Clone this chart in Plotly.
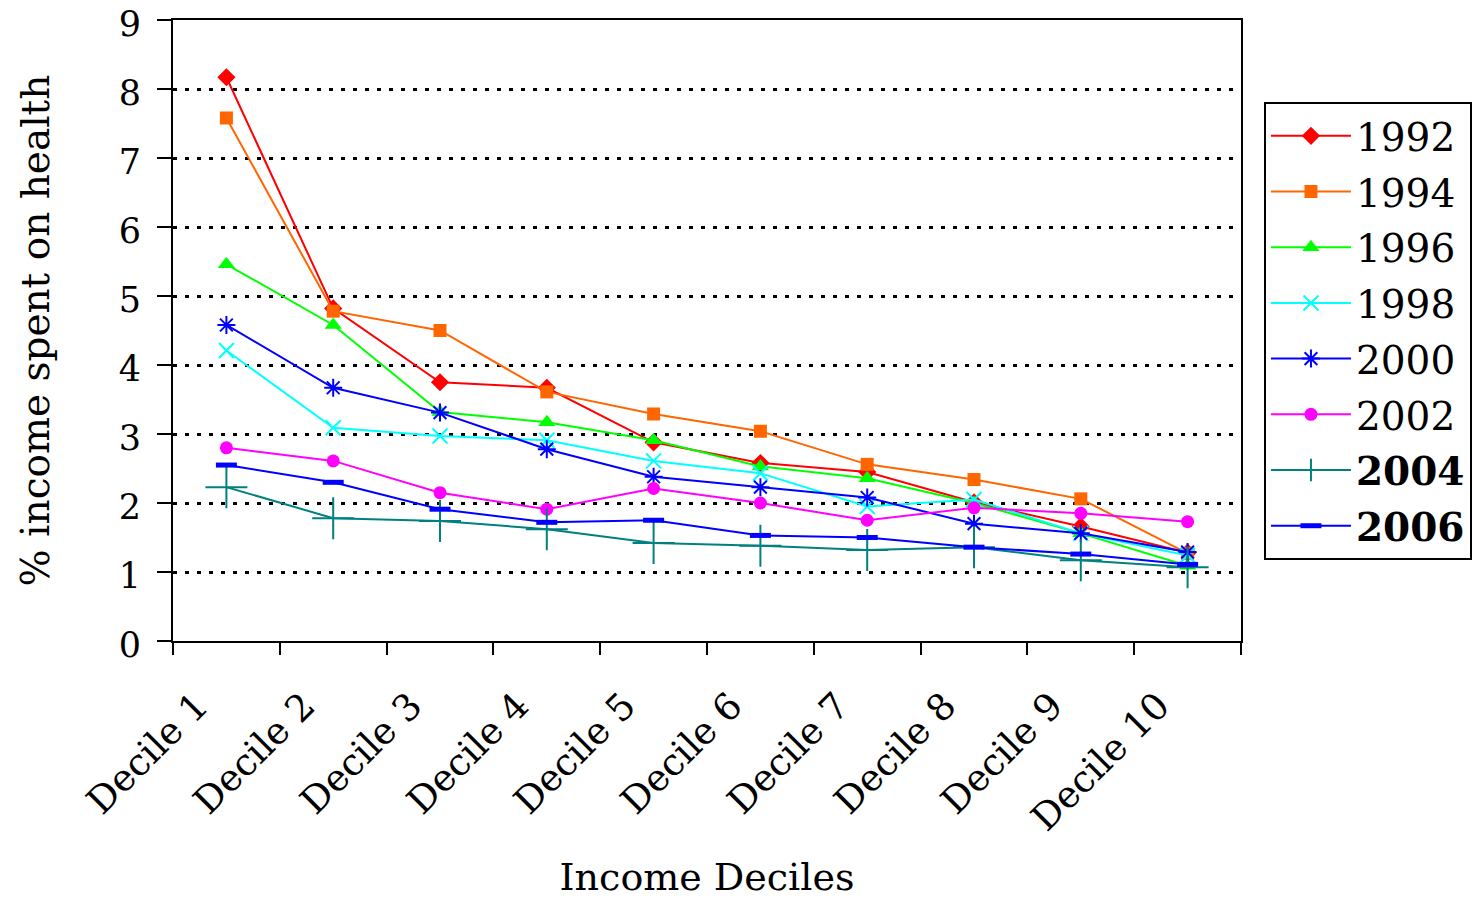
import plotly.graph_objects as go

categories = ["Decile 1", "Decile 2", "Decile 3", "Decile 4", "Decile 5",
              "Decile 6", "Decile 7", "Decile 8", "Decile 9", "Decile 10"]

y1992 = [8.17, 4.82, 3.75, 3.67, 2.88, 2.58, 2.45, 2.01, 1.66, 1.28]
y1994 = [7.58, 4.78, 4.50, 3.61, 3.29, 3.04, 2.56, 2.34, 2.06, 1.27]
y1996 = [5.46, 4.58, 3.32, 3.17, 2.91, 2.53, 2.36, 2.00, 1.56, 1.09]
y1998 = [4.21, 3.09, 2.97, 2.91, 2.61, 2.43, 1.95, 2.05, 1.56, 1.24]
y2000 = [4.58, 3.67, 3.31, 2.78, 2.38, 2.23, 2.08, 1.70, 1.56, 1.29]
y2002 = [2.80, 2.61, 2.15, 1.91, 2.21, 2.00, 1.75, 1.93, 1.85, 1.73]
y2004 = [2.23, 1.78, 1.74, 1.62, 1.42, 1.38, 1.32, 1.36, 1.17, 1.07]
y2006 = [2.55, 2.30, 1.91, 1.72, 1.75, 1.53, 1.50, 1.36, 1.26, 1.11]

series = [
    ("1992", y1992, "#FF0000", "diamond", 14, 1),
    ("1994", y1994, "#FF6600", "square", 13, 1),
    ("1996", y1996, "#00FF00", "triangle-up", 15, 1),
    ("1998", y1998, "#00FFFF", "x-thin", 15, 2),
    ("2000", y2000, "#0000FF", "asterisk", 15, 2),
    ("2002", y2002, "#FF00FF", "circle", 13, 1),
    ("<b>2004</b>", y2004, "#008080", "cross-thin", 30, 2),
    ("<b>2006</b>", y2006, "#0000FF", "line-ew", 15, 5),
]

fig = go.Figure()
for i, (name, vals, color, sym, size, lw) in enumerate(series):
    thin = sym in ("x-thin", "asterisk", "cross-thin", "line-ew")
    fig.add_trace(go.Scatter(
        x=categories, y=vals, name=name, mode="lines+markers",
        line=dict(color=color, width=2),
        marker=dict(symbol=sym, size=size, color=color,
                    line=dict(color=color, width=lw if thin else 0)),
        legendgroup=str(i),
    ))

font_family = "DejaVu Serif"
fig.update_layout(
    width=1474, height=891,
    paper_bgcolor="white", plot_bgcolor="white",
    margin=dict(l=165, r=241, t=12, b=258, autoexpand=False),
    font=dict(family=font_family, size=38, color="black"),
    showlegend=True,
    legend=dict(
        x=1.0215, y=0.868, xanchor="left", yanchor="top",
        bordercolor="black", borderwidth=2, bgcolor="white",
        font=dict(family=font_family, size=39, color="black"),
        tracegroupgap=2, itemwidth=80,
    ),
    xaxis=dict(
        type="category", tickangle=-45, tickson="boundaries",
        ticks="outside", ticklen=12, tickwidth=2, tickcolor="black",
        showline=True, linecolor="black", linewidth=2, mirror=True,
        showgrid=False, range=[-0.5, 9.5], automargin=False,
        ticklabelstandoff=26, ticklabelshift=-29, ticklabeloverflow="allow",
        tickfont=dict(family=font_family, size=37),
        title=dict(text="Income Deciles", standoff=50,
                   font=dict(family=font_family, size=38)),
    ),
    yaxis=dict(
        range=[0, 9], dtick=1, ticks="outside", ticklen=14, tickwidth=2,
        tickcolor="black", automargin=False,
        showline=True, linecolor="black", linewidth=2, mirror=True,
        showgrid=True, gridcolor="black", griddash="4px,8px", gridwidth=2.5,
        zeroline=False, ticklabelstandoff=9, ticklabelshift=4,
        ticklabeloverflow="allow",
        tickfont=dict(family=font_family, size=35),
        title=dict(text="% income spent on health", standoff=57,
                   font=dict(family=font_family, size=39)),
    ),
)

fig.write_html("out.html")
